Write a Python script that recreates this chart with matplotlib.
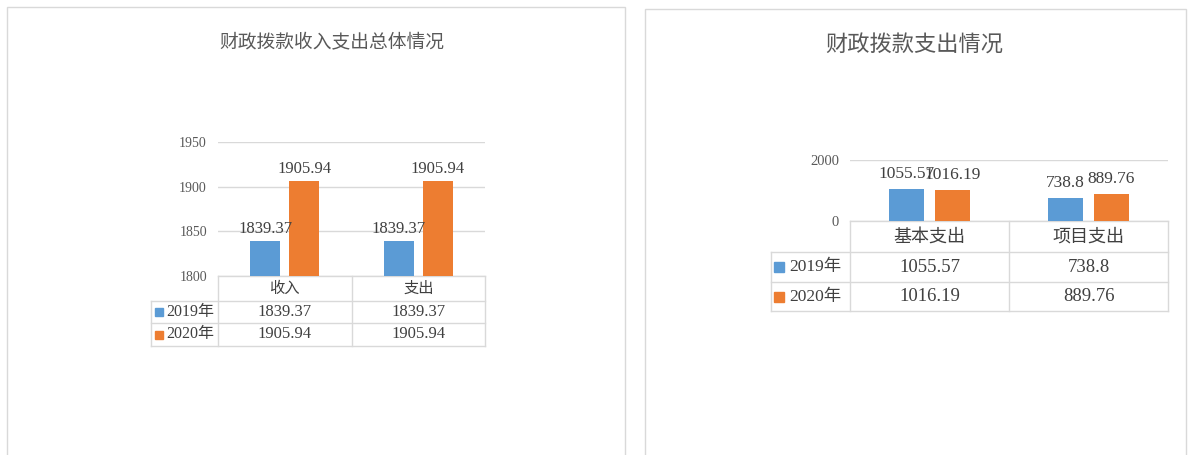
import matplotlib
matplotlib.use('Agg')
import matplotlib.pyplot as plt
import numpy as np
from matplotlib.transforms import blended_transform_factory
from matplotlib.patches import Rectangle

# ---- data ----
title_left = "财政拨款收入支出总体情况"
cats_left = ["收入", "支出"]
left_2019 = [1839.37, 1839.37]
left_2020 = [1905.94, 1905.94]
left_ylim = (1800, 1950)
left_yticks = [1800, 1850, 1900, 1950]

title_right = "财政拨款支出情况"
cats_right = ["基本支出", "项目支出"]
right_2019 = [1055.57, 738.8]
right_2020 = [1016.19, 889.76]
right_ylim = (0, 2000)
right_yticks = [0, 2000]

series_names = ["2019年", "2020年"]

# ---- style ----
BLUE = "#5B9BD5"
ORANGE = "#ED7D31"
GRID = "#D9D9D9"
TICK = "#595959"
TXT = "#404040"
plt.rcParams['font.family'] = ['Liberation Serif', 'Noto Sans CJK SC']

W, H = 1188, 455
fig = plt.figure(figsize=(W / 100, H / 100), dpi=100)


def add_ax(x0, x1, ytop, ybot):
    return fig.add_axes([x0 / W, 1 - ybot / H, (x1 - x0) / W, (ybot - ytop) / H])


# panel borders
fig.add_artist(Rectangle((7 / W, -0.02), (625 - 7) / W, 1.02 - 7 / H,
                         transform=fig.transFigure, fill=False, ec=GRID, lw=1))
fig.add_artist(Rectangle((645 / W, -0.02), (1186 - 645) / W, 1.02 - 9 / H,
                         transform=fig.transFigure, fill=False, ec=GRID, lw=1))


def panel(ax, cats, v19, v20, ylim, yticks, rows_px, h_px, fs_tick, fs_lab,
          fs_head, fs_val, fs_leg, lab_off, msize, pad):
    n = len(cats)
    x = np.arange(n)
    ax.bar(x - 0.145, v19, 0.225, color=BLUE, zorder=3)
    ax.bar(x + 0.145, v20, 0.225, color=ORANGE, zorder=3)
    ax.set_xlim(-0.5, n - 0.5)
    ax.set_ylim(*ylim)
    ax.set_yticks(yticks)
    ax.set_xticks([])
    for s in ax.spines.values():
        s.set_visible(False)
    ax.grid(axis='y', color=GRID, lw=1)
    ax.set_axisbelow(True)
    ax.tick_params(axis='y', length=0, pad=pad, labelsize=fs_tick, labelcolor=TICK)
    ax.patch.set_alpha(0)
    for xs, vals in ((x - 0.145, v19), (x + 0.145, v20)):
        for xi, v in zip(xs, vals):
            ax.annotate(f"{v:g}", (xi, v), xytext=(0, lab_off), textcoords='offset points',
                        ha='center', va='bottom', fontsize=fs_lab, color=TXT, zorder=5)
    # data table
    tr = blended_transform_factory(ax.transData, ax.transAxes)
    b = [0] + [-r / h_px for r in rows_px]
    kw = dict(color=GRID, lw=1, transform=tr, clip_on=False)
    ax.plot([-0.5, n - 0.5], [0, 0], **kw)
    for yy in b[1:]:
        ax.plot([-1.0, n - 0.5], [yy, yy], **kw)
    for xx in np.arange(n + 1) - 0.5:
        ax.plot([xx, xx], [0, b[3]], **kw)
    ax.plot([-1.0, -1.0], [b[1], b[3]], **kw)
    for xi, c in zip(x, cats):
        ax.text(xi, (b[0] + b[1]) / 2, c, transform=tr, ha='center', va='center',
                fontsize=fs_head, color=TXT, family=['Noto Sans CJK SC'])
    for r, (vals, col, name) in enumerate(((v19, BLUE, series_names[0]),
                                           (v20, ORANGE, series_names[1]))):
        yc = (b[r + 1] + b[r + 2]) / 2
        for xi, v in zip(x, vals):
            ax.text(xi, yc, f"{v:g}", transform=tr, ha='center', va='center',
                    fontsize=fs_val, color=TXT)
        ax.plot([-0.945], [yc], marker='s', ms=msize, color=col, transform=tr,
                clip_on=False, lw=0)
        ax.text(-0.885, yc, name, transform=tr, ha='left', va='center',
                fontsize=fs_leg, color=TXT)


axL = add_ax(218, 485, 142, 276)
panel(axL, cats_left, left_2019, left_2020, left_ylim, left_yticks,
      rows_px=[25, 47, 70], h_px=134, fs_tick=10, fs_lab=12, fs_head=11,
      fs_val=12, fs_leg=11.5, lab_off=3, msize=5.5, pad=8)

axR = add_ax(850, 1168, 160, 220.5)
panel(axR, cats_right, right_2019, right_2020, right_ylim, right_yticks,
      rows_px=[31.5, 61.5, 90.5], h_px=60.5, fs_tick=10.5, fs_lab=12.5, fs_head=13,
      fs_val=13.5, fs_leg=12.5, lab_off=5, msize=7, pad=8)

fig.text(332 / W, 1 - 42 / H, title_left, ha='center', va='center', fontsize=13.5,
         color=TICK, family=['Noto Sans CJK SC'])
fig.text(914 / W, 1 - 45 / H, title_right, ha='center', va='center', fontsize=16,
         color=TICK, family=['Noto Sans CJK SC'])

fig.savefig('out.png', dpi=100)
